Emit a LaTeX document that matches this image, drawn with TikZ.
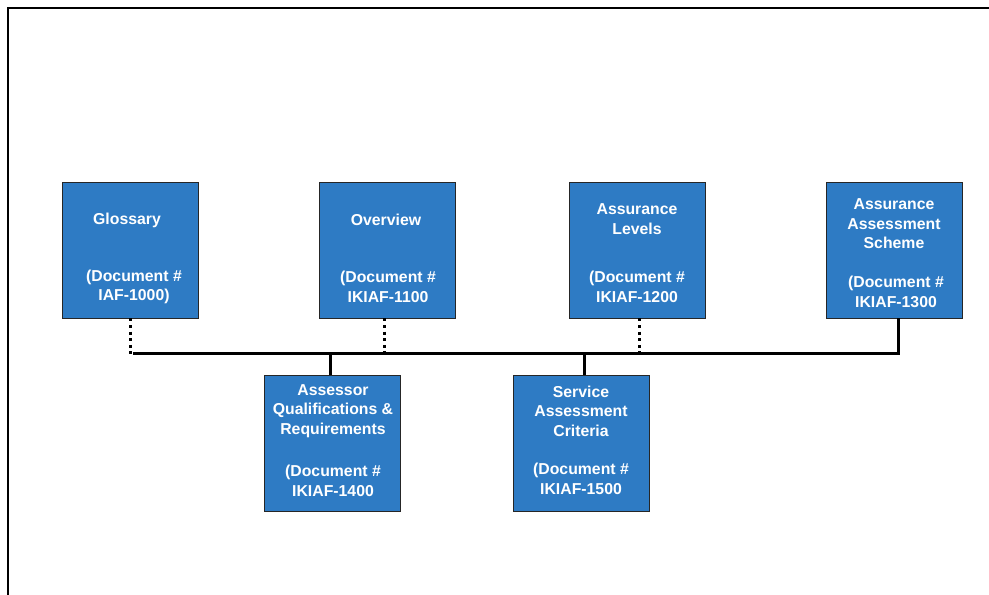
\documentclass[tikz,border=0pt]{standalone}
\usepackage{fontspec}
\setmainfont{Liberation Sans}
\definecolor{boxblue}{RGB}{46,123,196}
\begin{document}
\begin{tikzpicture}[x=1pt,y=1pt,
  box/.style={draw=black!85, line width=0.9pt, fill=boxblue, minimum width=136pt, minimum height=136pt, inner sep=0pt},
  ttl/.style={text=white, font=\bfseries\fontsize{15.8}{19.5}\selectfont, align=center, inner sep=0pt},
  dots/.style={line width=3pt, dash pattern=on 3pt off 3.6pt},
  bus/.style={line width=3pt},
  frame/.style={line width=1.3pt}]
\useasboundingbox (0,0) rectangle (989,595);
% frame
\coordinate (ftl) at (8,587);
\coordinate (fr) at (989,587);
\coordinate (fb) at (8,0);
\draw[frame] (fr) -- (ftl) -- (fb);
% boxes
\node[box] (gl) at (130,345) {};
\node[box] (ov) at (387.5,345) {};
\node[box] (al) at (637,345) {};
\node[box] (as) at (894,345) {};
\node[box] (aq) at (332,152) {};
\node[box] (sa) at (581,152) {};
% texts
\node[ttl] (glt) at (127,375) {Glossary};
\node[ttl] (gld) at (134,308) {(Document \#\\IAF-1000)};
\node[ttl] (ovt) at (386,375) {Overview};
\node[ttl] (ovd) at (388,308) {(Document \#\\IKIAF-1100};
\node[ttl] (alt) at (637,376) {Assurance\\Levels};
\node[ttl] (ald) at (637,308) {(Document \#\\IKIAF-1200};
\node[ttl] (ast) at (894,371) {Assurance\\Assessment\\Scheme};
\node[ttl] (asd) at (896,303) {(Document \#\\IKIAF-1300};
\node[ttl] (aqt) at (333,184) {Assessor\\Qualifications \&\\Requirements};
\node[ttl] (aqd) at (333,114) {(Document \#\\IKIAF-1400};
\node[ttl] (sat) at (581,184) {Service\\Assessment\\Criteria};
\node[ttl] (sad) at (581,116) {(Document \#\\IKIAF-1500};
% bus
\coordinate (busL) at (133,241);
\coordinate (busR) at (898,241);
\draw[bus] (busL) -- (busR) -- (busR |- as.south);
\draw[bus] (aq.north -| 330,0) -- (330,241);
\draw[bus] (sa.north -| 584,0) -- (584,241);
% dotted connectors
\draw[dots] (gl.south -| 130,0) -- (130,238);
\draw[dots] (ov.south -| 384,0) -- (384,238);
\draw[dots] (al.south -| 639,0) -- (639,238);
\end{tikzpicture}
\end{document}
